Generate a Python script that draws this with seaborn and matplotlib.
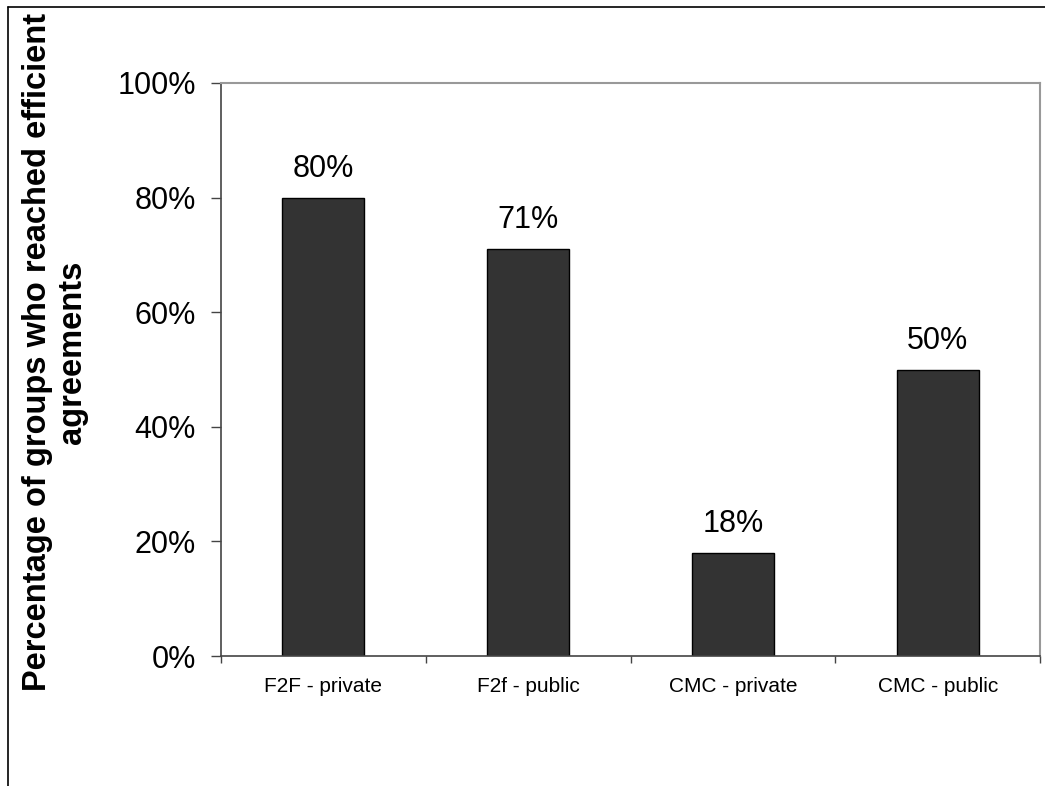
import matplotlib
matplotlib.use("Agg")
import matplotlib.pyplot as plt
import seaborn as sns
import pandas as pd
from matplotlib.lines import Line2D
from matplotlib.ticker import FuncFormatter, FixedLocator

categories = ["F2F - private", "F2f - public", "CMC - private", "CMC - public"]
values = [80, 71, 18, 50]
bar_labels = ["80%", "71%", "18%", "50%"]
y_ticks = [0, 20, 40, 60, 80, 100]

sns.set_theme(style="white")
plt.rcParams['font.family'] = ['Liberation Sans', 'DejaVu Sans']
plt.rcParams['text.color'] = 'black'
plt.rcParams['axes.labelcolor'] = 'black'
plt.rcParams['xtick.labelcolor'] = 'black'
plt.rcParams['ytick.labelcolor'] = 'black'

df = pd.DataFrame({"cat": categories, "val": values})

fig = plt.figure(figsize=(10.45, 7.86), dpi=100)
ax = fig.add_axes([221/1045, 1-656/786, (1040-221)/1045, (656-83)/786])

sns.barplot(data=df, x="cat", y="val", color="#333333", width=0.4,
            edgecolor="black", linewidth=1.0, saturation=1, ax=ax)

ax.set_ylim(0, 100)
ax.set_xlim(-0.5, 3.5)
ax.set_yticks(y_ticks)
ax.yaxis.set_major_formatter(FuncFormatter(lambda v, p: f"{int(v)}%"))
ax.xaxis.set_major_locator(FixedLocator([-0.5, 0.5, 1.5, 2.5, 3.5]))
ax.set_xticklabels([])
ax.xaxis.set_minor_locator(FixedLocator([0, 1, 2, 3]))
ax.set_xticklabels(categories, minor=True)
ax.tick_params(axis="x", which="minor", length=0, labelsize=15, pad=15, labelcolor="black")
ax.tick_params(axis="x", which="major", direction="out", length=5, width=1, color="#444444", bottom=True)
ax.tick_params(axis="y", direction="out", length=7, width=1, color="#444444", labelsize=22, pad=11,
               left=True, labelcolor="black")

for c, v, t in zip(range(len(categories)), values, bar_labels):
    ax.annotate(t, xy=(c, v), xytext=(0, 10), textcoords="offset points",
                ha="center", va="bottom", fontsize=22, color="black")

ax.set_xlabel("")
ax.set_ylabel("Percentage of groups who reached efficient\nagreements",
              fontsize=23.5, fontweight="bold", linespacing=1.2, color="black")
ax.yaxis.set_label_coords(-0.162, 0.53)

for side in ["left", "bottom"]:
    ax.spines[side].set_color("#444444")
    ax.spines[side].set_linewidth(1.2)
for side in ["top", "right"]:
    ax.spines[side].set_visible(True)
    ax.spines[side].set_color("#999999")
    ax.spines[side].set_linewidth(1.5)

# figure border (top and left edges)
fig.add_artist(Line2D([8/1045, 1], [1-7/786, 1-7/786], transform=fig.transFigure, color="black", lw=1.2))
fig.add_artist(Line2D([8/1045, 8/1045], [0, 1-7/786], transform=fig.transFigure, color="black", lw=1.2))

fig.savefig("out.png", dpi=100, facecolor="white")
